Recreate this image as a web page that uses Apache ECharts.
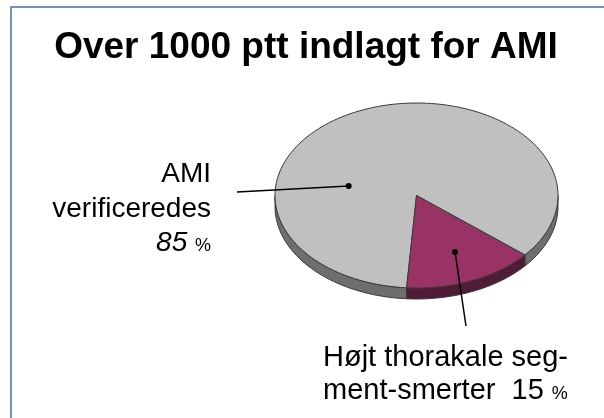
<!DOCTYPE html>
<html>
<head>
<meta charset="utf-8">
<script src="https://cdn.jsdelivr.net/npm/echarts@6/dist/echarts.min.js"></script>
<style>
  html, body { margin: 0; padding: 0; background: #ffffff; }
  #chart { width: 604px; height: 418px; }
</style>
</head>
<body>
<div id="chart"></div>
<script>
// Admissions for suspected AMI: share verified vs. high thoracic segment pain
const categories = ['AMI verificeredes', 'Højt thorakale segment-smerter'];
const values = [85, 15];
const titleText = 'Over 1000 ptt indlagt for AMI';

// Tilted "3D" pie geometry (pixels)
const PIE = { cx: 416.5, cy: 195.5, rx: 141.5, ry: 92.5, depth: 11, startDeg: 94 };
const topColors = ['#c0c0c0', '#993366'];
const sideColors = ['#6e6e6e', '#4f1b37'];
const edgeColor = '#3a3a3a';
const FONT = '"Liberation Sans", Arial, sans-serif';

function ellPt(deg, f, dz) {
  const r = deg * Math.PI / 180;
  return [PIE.cx + PIE.rx * f * Math.cos(r), PIE.cy + PIE.ry * f * Math.sin(r) + (dz || 0)];
}
function arcPts(a, b, dz) {
  const pts = [];
  const n = Math.max(2, Math.ceil(Math.abs(b - a) / 2));
  for (let k = 0; k <= n; k++) pts.push(ellPt(a + (b - a) * k / n, 1, dz));
  return pts;
}
function sliceRange(i) {
  const total = values.reduce((s, v) => s + v, 0);
  let before = 0;
  for (let k = 0; k < i; k++) before += values[k];
  const a1 = PIE.startDeg + before / total * 360;
  return [a1, a1 + values[i] / total * 360];
}

function renderItem(params, api) {
  const i = params.dataIndex;
  const [a1, a2] = sliceRange(i);
  const children = [];
  // visible outer wall (front half of the ellipse)
  [[0, 180], [360, 540]].forEach(([lo, hi]) => {
    const s = Math.max(a1, lo), e = Math.min(a2, hi);
    if (e > s) {
      children.push({
        type: 'polygon', z2: 1,
        shape: { points: arcPts(s, e, 0).concat(arcPts(e, s, PIE.depth)) },
        style: { fill: sideColors[i], stroke: edgeColor, lineWidth: 1 }
      });
    }
  });
  // top face
  children.push({
    type: 'polygon', z2: 5,
    shape: { points: [[PIE.cx, PIE.cy]].concat(arcPts(a1, a2, 0)) },
    style: { fill: topColors[i], stroke: edgeColor, lineWidth: 1 }
  });
  return { type: 'group', children };
}

// leader anchors on the slices (angle in degrees, fraction of radius)
const anchors = [ellPt(192, 0.49), ellPt(66, 0.67)];

const chart = echarts.init(document.getElementById('chart'), null, { renderer: 'canvas' });
chart.setOption({
  animation: false,
  backgroundColor: '#ffffff',
  series: [{
    type: 'custom',
    coordinateSystem: 'none',
    renderItem: renderItem,
    data: values.map((v, i) => ({ name: categories[i], value: [v] })),
    z: 2
  }],
  graphic: [
    { type: 'rect', z: 1, silent: true,
      shape: { x: 11, y: 7, width: 700, height: 500 },
      style: { fill: 'none', stroke: '#4a6fa5', lineWidth: 1.5 } },
    { type: 'text', z: 10, x: 306, y: 48,
      style: { text: titleText, font: 'bold 37px ' + FONT, fill: '#000', align: 'center', verticalAlign: 'middle' } },

    // left label: verified AMI
    { type: 'line', z: 10, shape: { x1: 237, y1: 192, x2: anchors[0][0], y2: anchors[0][1] },
      style: { stroke: '#000', lineWidth: 1.5 } },
    { type: 'circle', z: 10, shape: { cx: anchors[0][0], cy: anchors[0][1], r: 3 }, style: { fill: '#000' } },
    { type: 'text', z: 10, x: 211, y: 174,
      style: { text: 'AMI', font: '28px ' + FONT, fill: '#000', align: 'right', verticalAlign: 'middle' } },
    { type: 'text', z: 10, x: 211, y: 209,
      style: { text: 'verificeredes', font: '28px ' + FONT, fill: '#000', align: 'right', verticalAlign: 'middle' } },
    { type: 'text', z: 10, x: 211, y: 257,
      style: {
        text: '{n|' + values[0] + ' }{p|%}', align: 'right', verticalAlign: 'bottom', fill: '#000',
        rich: {
          n: { font: 'italic 28px ' + FONT, fill: '#000', verticalAlign: 'bottom', lineHeight: 28 },
          p: { font: '18px ' + FONT, fill: '#000', verticalAlign: 'bottom', lineHeight: 18, padding: [0, 0, 2, 0] }
        }
      } },

    // bottom label: high thoracic segment pain
    { type: 'line', z: 10, shape: { x1: anchors[1][0], y1: anchors[1][1], x2: 466, y2: 326 },
      style: { stroke: '#000', lineWidth: 1.5 } },
    { type: 'circle', z: 10, shape: { cx: anchors[1][0], cy: anchors[1][1], r: 3 }, style: { fill: '#000' } },
    { type: 'text', z: 10, x: 323, y: 358,
      style: { text: 'Højt thorakale seg-', font: '29px ' + FONT, fill: '#000', align: 'left', verticalAlign: 'middle' } },
    { type: 'text', z: 10, x: 323, y: 405,
      style: {
        text: '{t|ment-smerter  ' + values[1] + ' }{p|%}', align: 'left', verticalAlign: 'bottom', fill: '#000',
        rich: {
          t: { font: '29px ' + FONT, fill: '#000', verticalAlign: 'bottom', lineHeight: 29 },
          p: { font: '18px ' + FONT, fill: '#000', verticalAlign: 'bottom', lineHeight: 18, padding: [0, 0, 2, 0] }
        }
      } }
  ]
});
</script>
</body>
</html>
